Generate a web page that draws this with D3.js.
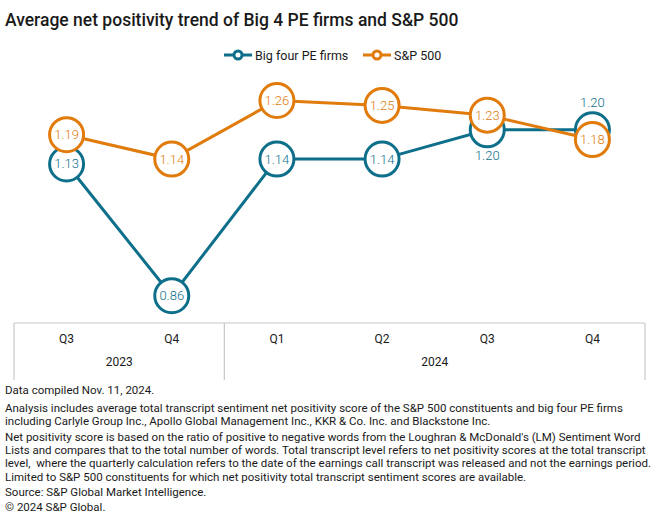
<!DOCTYPE html>
<html>
<head>
<meta charset="utf-8">
<script src="https://cdn.jsdelivr.net/npm/d3@7"></script>
<style>
  body { margin: 0; background: #fff; }
  text { font-family: Roboto, "Noto Sans", sans-serif; }
</style>
</head>
<body>
<svg id="chart" width="660" height="523"></svg>
<script>
// Data
const quarters = ["Q3", "Q4", "Q1", "Q2", "Q3", "Q4"];
const years = [{ label: "2023", from: 0, to: 2 }, { label: "2024", from: 2, to: 6 }];
const bigFour = [1.13, 0.86, 1.14, 1.14, 1.20, 1.20];
const sp500 = [1.19, 1.14, 1.26, 1.25, 1.23, 1.18];
const yTicks = [0.8, 1.3];

const notes = [
  ["Data compiled Nov. 11, 2024."],
  ["Analysis includes average total transcript sentiment net positivity score of the S&P 500 constituents and big four PE firms",
   "including Carlyle Group Inc., Apollo Global Management Inc., KKR & Co. Inc. and Blackstone Inc."],
  ["Net positivity score is based on the ratio of positive to negative words from the Loughran & McDonald's (LM) Sentiment Word",
   "Lists and compares that to the total number of words. Total transcript level refers to net positivity scores at the total transcript",
   "level,\u00a0 where the quarterly calculation refers to the date of the earnings call transcript was released and not the earnings period."],
  ["Limited to S&P 500 constituents for which net positivity total transcript sentiment scores are available."],
  ["Source: S&P Global Market Intelligence."],
  ["\u00a9 2024 S&P Global."]
];

const blue = "#0e6f8b";
const orange = "#e07b0c";

const svg = d3.select("#chart");

// Title
svg.append("text")
  .attr("x", 5).attr("y", 26)
  .attr("font-size", 17.5).attr("font-weight", 500)
  .attr("fill", "#1a1a1a")
  .text("Average net positivity trend of Big 4 PE firms and S&P 500");

// Legend
const legend = [
  { name: "Big four PE firms", color: blue, x: 224 },
  { name: "S&P 500", color: orange, x: 363 }
];
legend.forEach(d => {
  const g = svg.append("g").attr("transform", `translate(${d.x}, 55)`);
  g.append("line").attr("x1", 0).attr("x2", 28)
    .attr("stroke", d.color).attr("stroke-width", 3);
  g.append("circle").attr("cx", 14).attr("r", 4)
    .attr("fill", "#fff").attr("stroke", d.color).attr("stroke-width", 3);
  g.append("text").attr("x", 31).attr("y", 4.5)
    .attr("font-size", 12.5).attr("fill", "#1a1a1a").text(d.name);
});

// Scales
const xScale = d3.scaleBand()
  .domain(d3.range(quarters.length))
  .range([14, 645]);
const yScale = d3.scaleLinear()
  .domain(d3.extent(yTicks))
  .range([325, 81]);

const cx = i => xScale(i) + xScale.bandwidth() / 2;

// Category axis
const axisTop = 323, axisBottom = 380;
const axis = svg.append("g").attr("stroke", "#c8c8c8").attr("stroke-width", 1.2);
axis.append("line").attr("x1", 14).attr("x2", 645)
  .attr("y1", axisTop).attr("y2", axisTop);
[0, 2, 6].forEach(i => {
  const x = i === 6 ? xScale.range()[1] : xScale(i);
  axis.append("line").attr("x1", x).attr("x2", x)
    .attr("y1", axisTop).attr("y2", axisBottom);
});
svg.selectAll(".qlabel").data(quarters).enter().append("text")
  .attr("x", (d, i) => cx(i)).attr("y", 343)
  .attr("text-anchor", "middle").attr("font-size", 12)
  .attr("fill", "#1a1a1a").text(d => d);
svg.selectAll(".ylabel").data(years).enter().append("text")
  .attr("x", d => (xScale(d.from) + (d.to === 6 ? xScale.range()[1] : xScale(d.to))) / 2)
  .attr("y", 366)
  .attr("text-anchor", "middle").attr("font-size", 12)
  .attr("fill", "#1a1a1a").text(d => d.label);

// Series
const line = d3.line()
  .x((d, i) => cx(i))
  .y(d => yScale(d));

function drawSeries(values, color, labelPos) {
  const g = svg.append("g");
  g.append("path").datum(values)
    .attr("fill", "none").attr("stroke", color).attr("stroke-width", 3)
    .attr("d", line);
  const pts = g.selectAll("g").data(values).enter().append("g")
    .attr("transform", (d, i) => `translate(${cx(i)}, ${yScale(d)})`);
  pts.append("circle").attr("r", 17)
    .attr("fill", "#fff").attr("stroke", color).attr("stroke-width", 3);
  pts.append("text")
    .attr("y", (d, i) => labelPos[i] === "below" ? 30 : labelPos[i] === "above" ? -23 : 4.5)
    .attr("text-anchor", "middle").attr("font-size", 13).attr("font-weight", 300)
    .attr("fill", color).text(d => d.toFixed(2));
}

drawSeries(bigFour, blue, ["in", "in", "in", "in", "below", "above"]);
drawSeries(sp500, orange, ["in", "in", "in", "in", "in", "in"]);

// Footnotes
const lineY = [394, 412, 425, 441, 454, 467, 481, 496, 511];
let k = 0;
notes.forEach(block => {
  block.forEach(t => {
    svg.append("text").attr("x", 5).attr("y", lineY[k++])
      .attr("font-size", 11.5).attr("fill", "#1a1a1a").text(t);
  });
});
</script>
</body>
</html>
